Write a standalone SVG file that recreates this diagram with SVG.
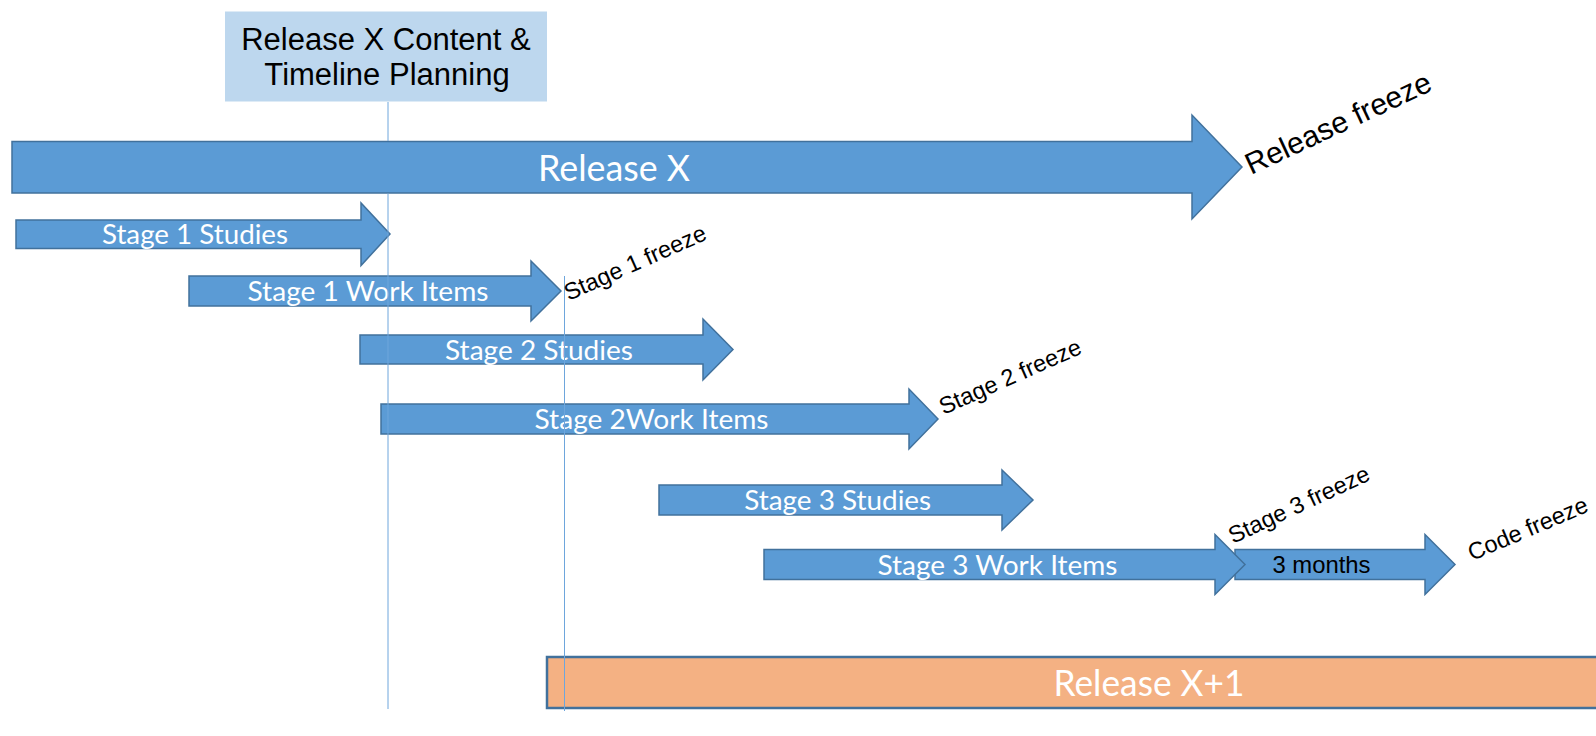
<svg xmlns="http://www.w3.org/2000/svg" width="1596" height="736" viewBox="0 0 1596 736">
  <style>
    .arrow { fill: #5b9bd5; stroke: #41719c; stroke-width: 1.5; stroke-linejoin: miter; }
    .lbl { fill: #ffffff; font-family: Lato, "Open Sans", sans-serif; font-size: 27px; }
    .big { fill: #ffffff; font-family: Lato, "Open Sans", sans-serif; font-size: 36px; }
    .note { fill: #000000; font-family: "Liberation Sans", Arial, sans-serif; font-size: 23.5px; }
    .note.large { font-size: 30px; }
    .plan { fill: #000000; font-family: "Liberation Sans", Arial, sans-serif; font-size: 31px; }
    .guide { stroke: #6ea6dc; stroke-width: 1; fill: none; }
  </style>
  <rect width="1596" height="736" fill="#ffffff"/>

  <g id="planning">
    <rect x="225" y="11.5" width="322" height="90" fill="#bdd7ee"/>
    <text class="plan" x="386" y="49.5" text-anchor="middle">Release X Content &amp;</text>
    <text class="plan" x="387" y="84.5" text-anchor="middle">Timeline Planning</text>
  </g>

  <g id="release-x">
    <polygon class="arrow" points="12,141.5 1192,141.5 1192,115 1242,167 1192,219 1192,193 12,193"/>
    <text class="big" x="538" y="181" textLength="152" lengthAdjust="spacingAndGlyphs">Release X</text>
  </g>

  <g id="stage1-studies">
    <polygon class="arrow" points="16,220 361,220 361,203 390,234 361,265.5 361,248.5 16,248.5"/>
    <text class="lbl" x="102" y="244" textLength="186" lengthAdjust="spacingAndGlyphs">Stage 1 Studies</text>
  </g>

  <g id="stage1-work-items">
    <polygon class="arrow" points="189,276 531,276 531,261 561,291 531,321 531,306 189,306"/>
    <text class="lbl" x="247.5" y="301" textLength="241" lengthAdjust="spacingAndGlyphs">Stage 1 Work Items</text>
  </g>

  <g id="stage2-studies">
    <polygon class="arrow" points="360,335 703,335 703,319 733,349.5 703,380 703,364 360,364"/>
    <text class="lbl" x="445" y="359.5" textLength="188" lengthAdjust="spacingAndGlyphs">Stage 2 Studies</text>
  </g>

  <g id="stage2-work-items">
    <polygon class="arrow" points="381,404 909,404 909,389 938,419 909,449 909,434 381,434"/>
    <text class="lbl" x="534.5" y="429" textLength="234" lengthAdjust="spacingAndGlyphs">Stage 2Work Items</text>
  </g>

  <g id="stage3-studies">
    <polygon class="arrow" points="659,485 1002,485 1002,470 1033,500 1002,530 1002,515 659,515"/>
    <text class="lbl" x="744.2" y="510" textLength="187" lengthAdjust="spacingAndGlyphs">Stage 3 Studies</text>
  </g>

  <g id="three-months">
    <polygon class="arrow" points="1235,549.5 1425,549.5 1425,534.5 1455,564.5 1425,594.5 1425,579.5 1235,579.5"/>
    <text x="1272.5" y="572.7" font-family="Liberation Sans, Arial, sans-serif" font-size="24" fill="#000" textLength="98" lengthAdjust="spacingAndGlyphs">3 months</text>
  </g>

  <g id="stage3-work-items">
    <polygon class="arrow" points="764,549.5 1215,549.5 1215,534.5 1245,564.5 1215,594.5 1215,579.5 764,579.5"/>
    <text class="lbl" x="877.5" y="574.5" textLength="240" lengthAdjust="spacingAndGlyphs">Stage 3 Work Items</text>
  </g>

  <g id="release-x1">
    <rect x="547" y="657" width="1070" height="51" fill="#f4b183" stroke="#41719c" stroke-width="2.5"/>
    <text class="big" x="1053.5" y="696" textLength="191" lengthAdjust="spacingAndGlyphs">Release X+1</text>
  </g>

  <g id="connectors">
    <line class="guide" x1="388" y1="102" x2="388" y2="141"/>
    <line class="guide" x1="388" y1="193.5" x2="388" y2="709"/>
    <line class="guide" x1="564.5" y1="276" x2="564.5" y2="711"/>
  </g>

  <g id="freeze-labels">
    <text class="note large" transform="translate(1251,175) rotate(-25)">Release freeze</text>
    <text class="note" transform="translate(568.5,301) rotate(-24)">Stage 1 freeze</text>
    <text class="note" transform="translate(943.5,415) rotate(-24)">Stage 2 freeze</text>
    <text class="note" transform="translate(1233,544) rotate(-25)">Stage 3 freeze</text>
    <text class="note" transform="translate(1472,561) rotate(-23)">Code freeze</text>
  </g>
</svg>
